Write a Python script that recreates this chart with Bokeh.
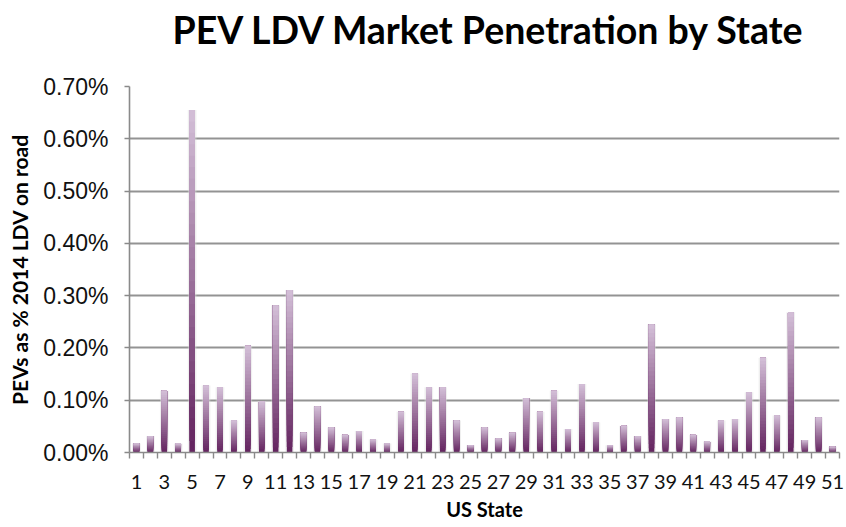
from bokeh.plotting import figure
from bokeh.layouts import column
from bokeh.models import Range1d, FixedTicker, PrintfTickFormatter, ColumnDataSource
from bokeh.core.properties import value
from bokeh.embed import file_html
from bokeh.resources import INLINE

# ---- data ----
states = list(range(1, 52))
pev_share_pct = [
    0.017, 0.031, 0.118, 0.017, 0.655, 0.128, 0.125, 0.061, 0.204, 0.098,
    0.281, 0.311, 0.038, 0.088, 0.048, 0.034, 0.041, 0.025, 0.017, 0.078,
    0.151, 0.125, 0.125, 0.061, 0.014, 0.048, 0.027, 0.038, 0.104, 0.078,
    0.118, 0.045, 0.131, 0.058, 0.014, 0.051, 0.031, 0.245, 0.064, 0.067,
    0.034, 0.021, 0.061, 0.064, 0.115, 0.181, 0.071, 0.268, 0.024, 0.067,
    0.011,
]
y_ticks = [0.0, 0.1, 0.2, 0.3, 0.4, 0.5, 0.6, 0.7]
x_tick_labels = [s for s in states if s % 2 == 1]
title_text = "PEV LDV Market Penetration by State"

TOP = (0xD4, 0xC0, 0xD8)
BOT = (0x62, 0x22, 0x5E)
N = 30

xs, bots, tops, cols = [], [], [], []
for k in range(N):
    t = (k + 0.5) / N
    c = "#%02x%02x%02x" % tuple(int(round(BOT[i] + (TOP[i] - BOT[i]) * t)) for i in range(3))
    for s, v in zip(states, pev_share_pct):
        xs.append(s)
        bots.append(v * k / N)
        tops.append(v)
        cols.append(c)
src = ColumnDataSource(dict(x=xs, bottom=bots, top=tops, color=cols))

TITLE_H = 58
W = 846
FRAME_L, FRAME_R = 129, 839

# ---- title strip (SVG text); its frame is aligned with the chart frame ----
t = figure(width=W, height=TITLE_H, output_backend="svg", toolbar_location=None,
           x_range=Range1d(FRAME_L, FRAME_R), y_range=Range1d(0, TITLE_H),
           x_axis_type=None, y_axis_type=None, min_border=0,
           min_border_left=FRAME_L, min_border_right=W - FRAME_R)
t.outline_line_color = None
t.xgrid.grid_line_color = None
t.ygrid.grid_line_color = None
t.text(x=[172], y=[TITLE_H - 29], text=[title_text],
       text_align="left", text_baseline="middle",
       text_font=value("Lato"), text_font_style="bold", text_font_size="37.5px",
       text_color="#000000")

# ---- main chart ----
p = figure(width=W, height=527 - TITLE_H, output_backend="svg", toolbar_location=None,
           x_range=Range1d(0.5, 51.5), y_range=Range1d(0, 0.7),
           min_border_left=FRAME_L, min_border_right=W - FRAME_R,
           min_border_top=86 - TITLE_H, min_border_bottom=75)
p.outline_line_color = None
p.background_fill_color = "white"

# soft shadow behind bars
p.vbar(x=states, top=pev_share_pct, width=0.62, bottom=0,
       fill_color="#dcdcdc", fill_alpha=0.45, line_color=None)
p.vbar(x="x", bottom="bottom", top="top", width=0.4, fill_color="color",
       line_color=None, source=src)

p.xgrid.grid_line_color = None
p.ygrid.grid_line_color = "#939393"
p.ygrid.grid_line_width = 1.8
p.ygrid.ticker = FixedTicker(ticks=y_ticks)

p.yaxis.ticker = FixedTicker(ticks=y_ticks)
p.yaxis.formatter = PrintfTickFormatter(format="%.2f%%")
p.yaxis.major_label_text_font = "Liberation Sans"
p.yaxis.major_label_text_font_size = "23px"
p.yaxis.major_label_text_color = "#111111"
p.yaxis.major_label_standoff = 16
p.yaxis.major_tick_out = 5
p.yaxis.major_tick_in = 0
p.yaxis.minor_tick_line_color = None
p.yaxis.axis_line_color = "#8a8a8a"
p.yaxis.axis_line_width = 1.6
p.yaxis.major_tick_line_color = "#8a8a8a"
p.yaxis.major_tick_line_width = 1.4
p.yaxis.axis_label = "PEVs as % 2014 LDV on road"
p.yaxis.axis_label_text_font = "Lato"
p.yaxis.axis_label_text_font_style = "bold"
p.yaxis.axis_label_text_font_size = "21px"
p.yaxis.axis_label_text_color = "#000000"
p.yaxis.axis_label_standoff = 8

p.xaxis.ticker = FixedTicker(ticks=x_tick_labels,
                             minor_ticks=[s - 0.5 for s in states] + [states[-1] + 0.5])
p.xaxis.major_tick_out = 0
p.xaxis.major_tick_in = 0
p.xaxis.minor_tick_out = 6
p.xaxis.minor_tick_in = 0
p.xaxis.minor_tick_line_color = "#8a8a8a"
p.xaxis.minor_tick_line_width = 1.4
p.xaxis.axis_line_color = "#8a8a8a"
p.xaxis.axis_line_width = 1.6
p.xaxis.major_label_text_font = "Lato"
p.xaxis.major_label_text_font_size = "20px"
p.xaxis.major_label_text_color = "#111111"
p.xaxis.major_label_standoff = 16
p.xaxis.axis_label = "US State"
p.xaxis.axis_label_text_font = "Lato"
p.xaxis.axis_label_text_font_style = "bold"
p.xaxis.axis_label_text_font_size = "20px"
p.xaxis.axis_label_text_color = "#000000"
p.xaxis.axis_label_standoff = 5

layout = column(t, p, spacing=0)
open("out.html", "w").write(file_html(layout, INLINE))
